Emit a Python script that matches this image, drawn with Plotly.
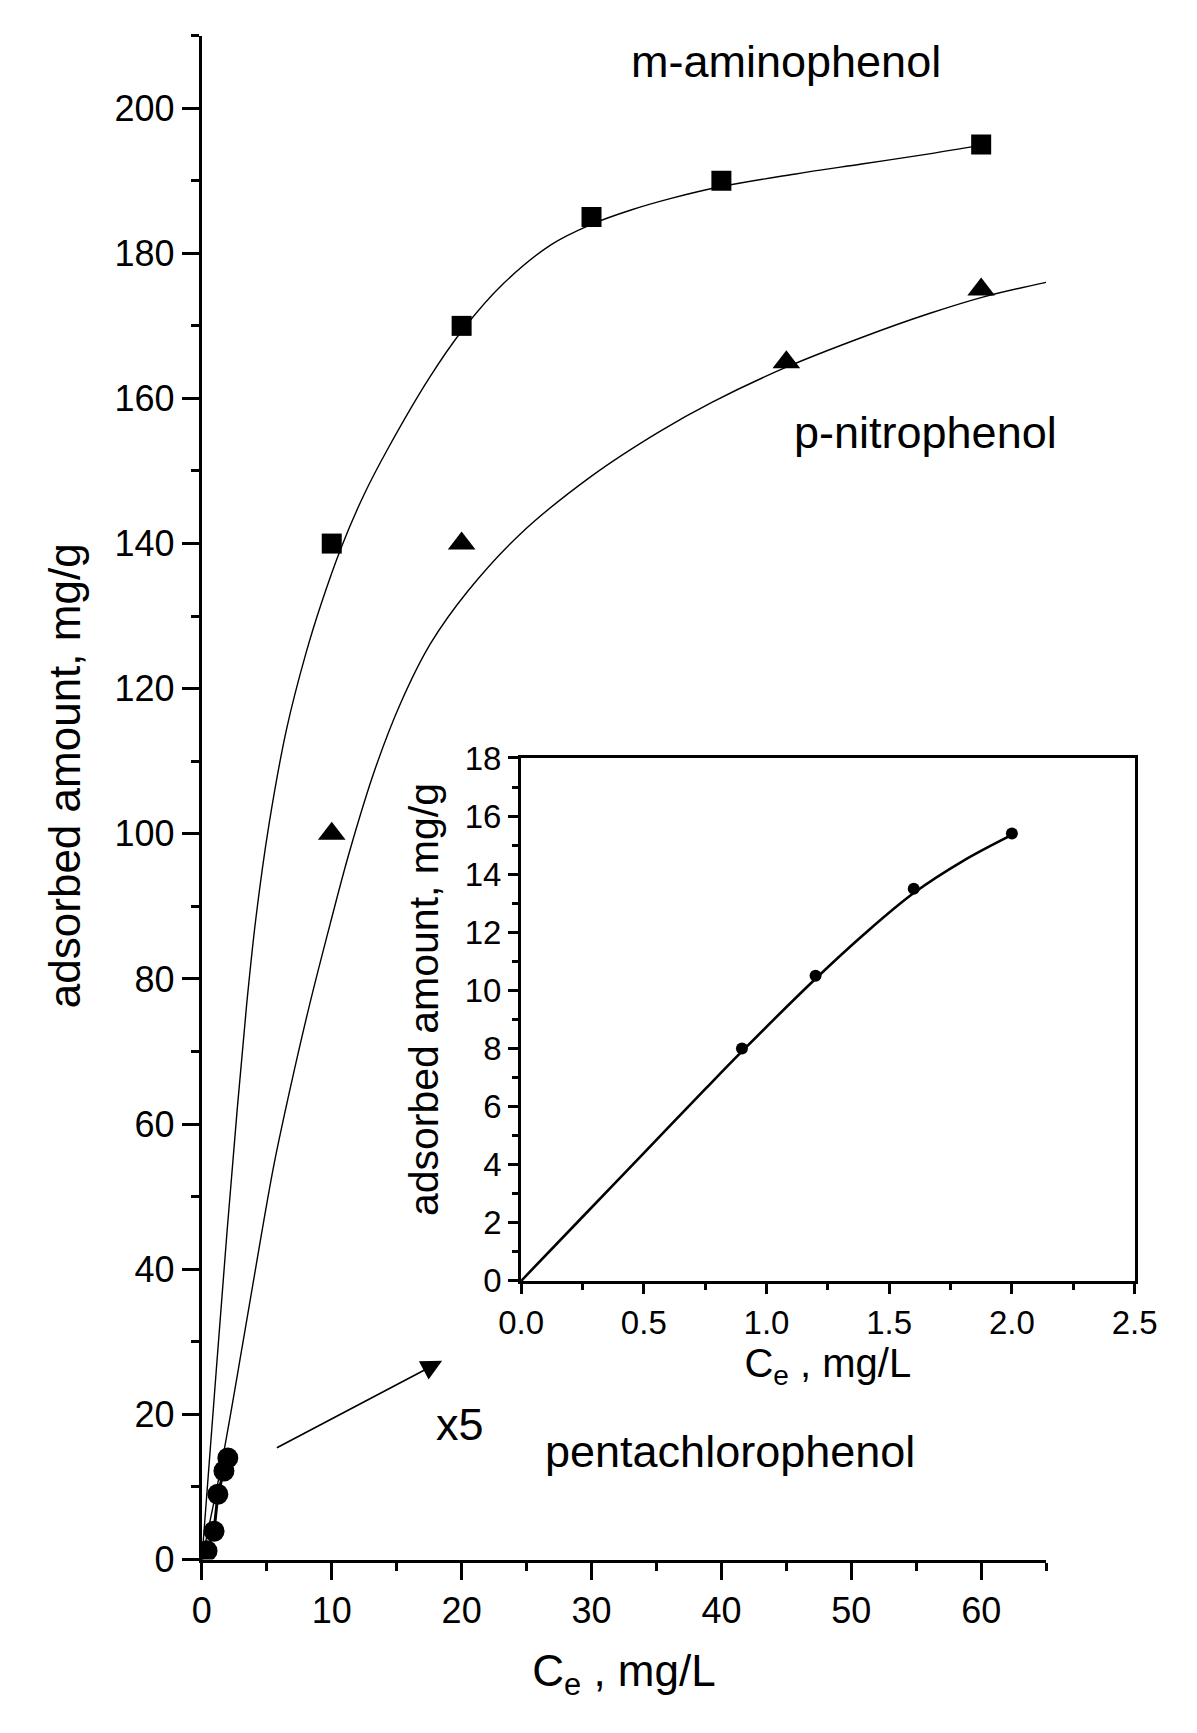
import plotly.graph_objects as go

# ---- data ----
ma_x = [10, 20, 30, 40, 60]
ma_y = [140, 170, 185, 190, 195]
pn_x = [10, 20, 45, 60]
pn_y = [100, 140, 165, 175]
pcp_x = [0.4, 0.94, 1.23, 1.7, 2.0]
pcp_y = [1.2, 3.9, 9.0, 12.2, 14.0]

ma_fit_x = [0, 1.0, 1.93, 2.72, 3.45, 4.17, 5.16, 6.53, 8.0, 9.17, 10.74, 12.5, 14.3,
            17.5, 20.1, 23.2, 26.9, 30.0, 33.1, 36.2, 40.0, 45.6, 50.8, 56.0, 60.0]
ma_fit_y = [0, 23.5, 45, 62, 76.5, 88.5, 101.2, 114.5, 124.8, 131.6, 139.5, 146.8, 153.0,
            162.8, 169.5, 175.8, 181.2, 184.0, 186.0, 187.6, 189.2, 190.9, 192.3, 193.7, 194.9]
pn_fit_x = [0, 1.5, 3.23, 4.51, 5.56, 7.0, 8.3, 9.88, 11.36, 13.35, 15.3, 17.6, 20.5, 24.5,
            30.0, 35.2, 39.3, 45.0, 50.8, 56.0, 60.2, 65.0]
pn_fit_y = [0, 13, 30.6, 44, 54.5, 66.5, 76.5, 87.6, 97.5, 109, 118, 126.2, 133.5, 141.3,
            149.3, 155.4, 159.5, 164.3, 168.4, 171.7, 174.0, 176.0]

ins_x = [0.9, 1.2, 1.6, 2.0]
ins_y = [8.0, 10.5, 13.5, 15.4]
ins_fit_x = [0, 0.25, 0.5, 0.75, 0.9, 1.2, 1.4, 1.6, 1.8, 2.0]
ins_fit_y = [0, 2.2, 4.4, 6.6, 7.9, 10.4, 11.95, 13.35, 14.45, 15.35]

FONT = "Liberation Sans, Arial, sans-serif"
W, H = 1197, 1733

fig = go.Figure()

fit_line = dict(color="black", width=1.4, shape="spline", smoothing=1.0)
fig.add_trace(go.Scatter(x=ma_fit_x, y=ma_fit_y, mode="lines", line=fit_line, showlegend=False, hoverinfo="skip"))
fig.add_trace(go.Scatter(x=pn_fit_x, y=pn_fit_y, mode="lines", line=fit_line, showlegend=False, hoverinfo="skip"))
fig.add_trace(go.Scatter(x=ma_x, y=ma_y, mode="markers", marker=dict(symbol="square", size=20, color="black"),
                         name="m-aminophenol", showlegend=False))
fig.add_trace(go.Scatter(x=pn_x, y=pn_y, mode="markers", marker=dict(symbol="triangle-up", size=24, color="black"),
                         name="p-nitrophenol", showlegend=False))
fig.add_trace(go.Scatter(x=[0] + pcp_x, y=[0] + pcp_y, mode="lines", line=dict(color="black", width=3),
                         showlegend=False, hoverinfo="skip"))
fig.add_trace(go.Scatter(x=pcp_x, y=pcp_y, mode="markers", marker=dict(symbol="circle", size=21, color="black"),
                         name="pentachlorophenol", showlegend=False))

# inset
fig.add_trace(go.Scatter(x=ins_fit_x, y=ins_fit_y, mode="lines", xaxis="x2", yaxis="y2",
                         line=dict(color="black", width=2.6, shape="spline", smoothing=1.0), showlegend=False, hoverinfo="skip"))
fig.add_trace(go.Scatter(x=ins_x, y=ins_y, mode="markers", xaxis="x2", yaxis="y2",
                         marker=dict(symbol="circle", size=12, color="black"), showlegend=False))

common = dict(showgrid=False, zeroline=False, showline=True, linecolor="black", ticks="outside", tickcolor="black")

fig.update_layout(
    width=W, height=H, autosize=False,
    margin=dict(l=0, r=0, t=0, b=0, pad=0),
    paper_bgcolor="white", plot_bgcolor="white",
    font=dict(family=FONT, color="black"),
    xaxis=dict(domain=[186 / W, 1064 / W], range=[0, 65], tick0=0, dtick=10, linewidth=3, ticklen=17, tickwidth=3,
               tickfont=dict(family=FONT, size=36, color="black"),
               minor=dict(dtick=5, ticklen=8, tickwidth=3, ticks="outside", tickcolor="black"),
               title=dict(text="C<sub>e</sub> , mg/L", font=dict(size=44), standoff=26), anchor="y", **common),
    yaxis=dict(domain=[1 - 1577 / H, 1 - 18 / H], range=[0, 210], tick0=0, dtick=20, linewidth=3, ticklen=17, tickwidth=3,
               tickfont=dict(family=FONT, size=36, color="black"),
               minor=dict(dtick=10, ticklen=8, tickwidth=3, ticks="outside", tickcolor="black"),
               anchor="x", **common),
    xaxis2=dict(domain=[518 / W, 1156 / W], range=[0, 2.5], tick0=0, dtick=0.5, tickformat=".1f", anchor="y2",
                linewidth=3, mirror=True, ticklen=10, tickwidth=2.5,
                tickfont=dict(family=FONT, size=33, color="black"),
                minor=dict(dtick=0.25, ticklen=6, tickwidth=2.5, ticks="outside", tickcolor="black"),
                title=dict(text="C<sub>e</sub> , mg/L", font=dict(size=40), standoff=6), **common),
    yaxis2=dict(domain=[1 - 1292 / H, 1 - 757 / H], range=[0, 18], tick0=0, dtick=2, anchor="x2",
                linewidth=3, mirror=True, ticklen=10, tickwidth=2.5,
                tickfont=dict(family=FONT, size=33, color="black"),
                minor=dict(dtick=1, ticklen=6, tickwidth=2.5, ticks="outside", tickcolor="black"),
                **common),
)

# y-axis titles (placed slightly above centre, as in the original)
fig.add_annotation(x=43 / W, xref="paper", y=108, yref="y", text="adsorbed amount, mg/g", textangle=-90,
                   showarrow=False, font=dict(family=FONT, size=44, color="black"), xanchor="center", yanchor="middle")
fig.add_annotation(x=417 / W, xref="paper", y=9.7, yref="y2", text="adsorbed amount, mg/g", textangle=-90,
                   showarrow=False, font=dict(family=FONT, size=41, color="black"), xanchor="center", yanchor="middle")

ann_font = dict(family=FONT, size=45, color="black")
labels = [("m-aminophenol", 45.0, 206.4), ("p-nitrophenol", 55.7, 155.3),
          ("pentachlorophenol", 40.7, 14.9), ("x5", 19.9, 18.6)]
for txt, lx, ly in labels:
    fig.add_annotation(x=lx, y=ly, xref="x", yref="y", text=txt, showarrow=False, font=ann_font,
                       xanchor="center", yanchor="middle")

fig.add_annotation(x=18.5, y=27.4, ax=5.66, ay=15.3, xref="x", yref="y", axref="x", ayref="y",
                   text="", showarrow=True, arrowhead=2, arrowsize=2.6, arrowwidth=1.6, arrowcolor="black")

fig.write_html("out.html", config={"displayModeBar": False},
               post_script="document.body.style.margin='0px';document.body.style.overflow='hidden';")
